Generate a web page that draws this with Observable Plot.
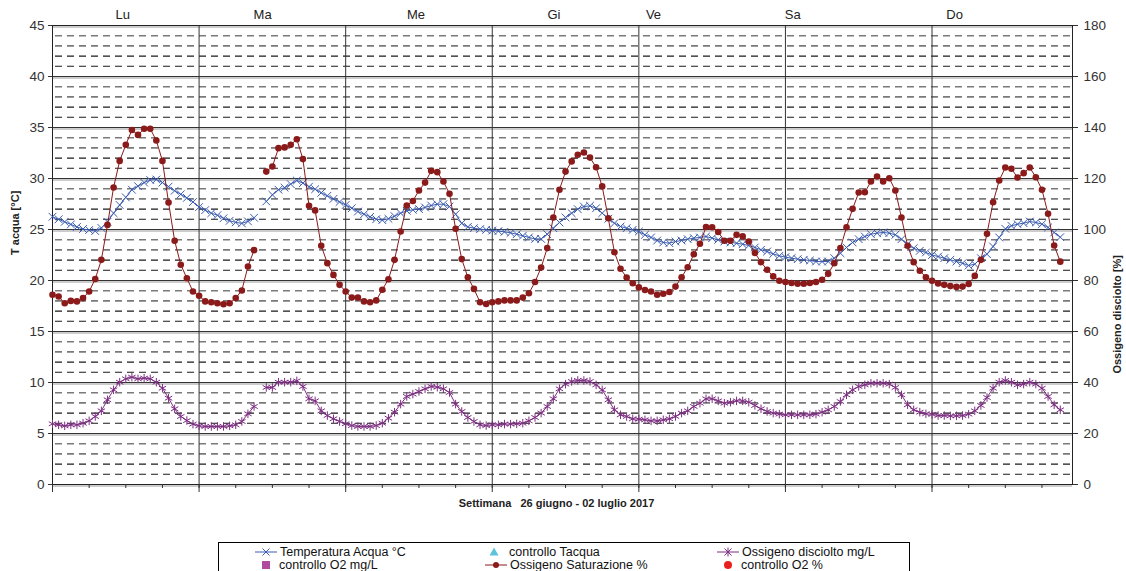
<!DOCTYPE html>
<html><head><meta charset="utf-8">
<script src="https://cdn.jsdelivr.net/npm/d3@7"></script>
<script src="https://cdn.jsdelivr.net/npm/@observablehq/plot@0.6"></script>
<style>
body{margin:0;background:#fff;font-family:"Liberation Sans",Arial,sans-serif;}
#wrap{position:relative;width:1126px;height:571px;overflow:hidden;background:#fff;}
#chart{position:absolute;left:0;top:0;}
#legend{position:absolute;left:218px;top:542px;width:692px;height:40px;border:1px solid #000;box-sizing:border-box;background:#fff;}
</style></head><body>
<div id="wrap"><div id="chart"></div><div id="legend"></div></div>
<script>
// ---- DATA (hourly, Lu 00:00 .. Do 21:00) ----
const dayLabels = ["Lu","Ma","Me","Gi","Ve","Sa","Do"];
const leftTicks = [0,5,10,15,20,25,30,35,40,45];
const rightTicks = [0,20,40,60,80,100,120,140,160,180];
const xTitle = "Settimana\u00a0\u00a0\u00a026 giugno - 02 luglio 2017";
const yLeftTitle = "T acqua [°C]";
const yRightTitle = "Ossigeno disciolto [%]";
const seriesNames = ["Temperatura Acqua °C","controllo Tacqua","Ossigeno disciolto mg/L","controllo O2 mg/L","Ossigeno Saturazione %","controllo O2 %"];

// Temperatura Acqua °C
const tempAcqua = [
 26.25,26.0,25.75,25.5,25.25,25.05,24.95,24.85,25.15,25.75,26.6,27.4,28.15,28.9,29.25,29.6,29.85,29.9,29.6,29.2,28.8,28.45,28.1,27.7,
 27.2,26.9,26.6,26.4,26.1,25.85,25.7,25.6,25.8,26.15,null,27.75,28.4,28.9,29.1,29.45,29.8,29.55,29.2,28.95,28.6,28.3,28.0,27.7,
 27.4,27.09,26.76,26.5,26.24,26.01,25.92,26.05,26.31,26.6,26.83,26.93,27.0,27.16,27.35,27.48,27.48,27.25,26.5,25.6,25.25,25.13,25.03,24.97,
 24.9,24.84,24.77,24.67,24.54,24.38,24.22,24.08,24.08,24.54,25.13,25.69,26.18,26.6,26.99,27.25,27.32,27.09,26.6,26.05,25.62,25.29,25.13,24.97,
 24.8,24.48,24.22,23.92,23.73,23.66,23.82,23.92,24.05,24.15,24.22,24.31,24.15,23.99,23.82,23.73,23.66,23.56,23.43,23.24,23.01,22.84,22.61,22.42,
 22.29,22.19,22.09,22.03,21.96,21.86,21.86,21.86,22.19,22.68,23.24,23.73,24.05,24.31,24.54,24.64,24.71,24.64,24.48,24.05,23.56,23.17,22.91,22.75,
 22.5,22.35,22.19,22.03,21.86,21.7,21.47,21.6,22.19,22.58,23.33,24.22,25.07,25.36,25.52,25.62,25.78,25.69,25.52,25.2,24.71,24.25
];
// Ossigeno Saturazione % (right axis)
const o2Sat = [
 74.4,73.7,71.1,72.0,71.8,73.1,75.7,80.6,88.1,101.8,116.5,126.9,133.2,139.0,137.1,139.5,139.5,134.9,126.9,110.6,95.6,86.2,80.9,75.7,
 74.0,71.8,71.5,71.1,70.7,71.1,73.1,76.1,85.5,91.9,null,122.7,124.7,131.9,132.2,133.2,135.4,127.6,109.3,107.5,93.6,86.8,82.2,78.3,
 75.7,73.3,73.3,71.8,71.5,72.2,76.4,80.5,88.1,99.2,109.4,111.2,115.3,118.4,123.0,122.5,118.8,114.0,100.3,88.4,81.3,76.7,71.5,70.8,
 71.5,71.8,72.2,72.2,72.2,73.3,75.0,79.4,85.1,92.7,104.7,115.6,122.7,126.7,129.3,130.2,128.2,124.4,116.9,104.4,91.1,84.6,81.2,78.9,
 77.3,76.3,75.7,74.4,74.8,75.5,77.6,81.3,85.2,90.3,94.4,101.0,100.9,99.0,95.6,95.6,97.9,97.3,95.3,90.8,87.2,84.2,81.6,79.9,
 79.4,79.0,78.7,78.7,79.0,79.4,80.3,82.6,86.8,92.7,100.9,108.1,114.5,114.6,118.8,120.8,118.8,120.1,115.3,104.7,93.6,87.2,83.8,81.3,
 79.9,78.8,78.3,77.8,77.5,77.6,78.6,81.8,88.1,98.3,110.7,119.2,124.3,123.8,120.4,122.1,124.3,120.5,115.6,106.2,93.7,87.4
];
// Ossigeno disciolto mg/L
const o2Mg = [
 5.95,5.85,5.75,5.85,5.85,6.01,6.24,6.67,7.22,8.30,9.28,10.03,10.36,10.52,10.36,10.42,10.36,10.03,9.44,8.46,7.42,6.67,6.27,5.92,
 5.75,5.69,5.69,5.69,5.69,5.75,5.85,6.18,6.93,7.65,null,9.51,9.51,10.03,10.03,10.03,10.16,9.61,8.40,8.20,7.22,6.76,6.44,6.18,
 5.95,5.78,5.69,5.69,5.69,5.78,6.01,6.50,7.09,7.88,8.63,8.86,9.12,9.38,9.61,9.54,9.38,9.02,7.88,7.16,6.57,6.18,5.85,5.78,
 5.85,5.85,5.92,5.92,5.95,6.01,6.24,6.57,7.0,7.65,8.40,9.38,9.84,10.10,10.20,10.20,10.10,9.77,9.28,8.30,7.32,6.83,6.67,6.44,
 6.4,6.34,6.24,6.24,6.34,6.44,6.67,7.0,7.22,7.65,7.97,8.40,8.40,8.20,7.97,8.07,8.20,8.20,8.07,7.75,7.42,7.16,7.0,6.90,
 6.83,6.83,6.83,6.83,6.83,6.90,7.09,7.32,7.65,8.14,8.79,9.28,9.61,9.77,9.93,9.93,9.93,9.84,9.51,8.79,7.81,7.32,7.09,6.93,
 6.88,6.76,6.76,6.73,6.73,6.76,6.90,7.22,7.75,8.53,9.44,10.03,10.20,10.03,9.77,9.84,10.03,9.84,9.44,8.63,7.81,7.32
];

// ---- LAYOUT / STYLE ----
const FONT = '"Liberation Sans", Arial, sans-serif';
const C_T = "#3b5cb0", C_S = "#8b1a1a", C_M = "#7d2e82";
const C_CT = "#5bc4d8", C_CM = "#b04a9e", C_CS = "#e8201e";
const xEnd = 167;                // axis end (hours)
const satScale = 4;              // right axis = 4 x left axis
const dayLabelHour = [11.5, 34.4, 59.5, 82.1, 98.4, 121.2, 147.7];

const rows = tempAcqua.map((t, i) => ({
  h: i, t, s: o2Sat[i] == null ? null : o2Sat[i] / satScale, m: o2Mg[i]
}));
const minorVals = d3.range(1, 45).filter(v => v % 5 !== 0);

const chart = Plot.plot({
  width: 1126, height: 520,
  marginLeft: 52, marginRight: 54, marginTop: 25, marginBottom: 36,
  x: {domain: [0, xEnd], axis: null},
  y: {domain: [0, 45], axis: null},
  style: {fontFamily: FONT, fontSize: "13px", color: "#333", background: "#fff", overflow: "visible"},
  marks: [
    Plot.ruleY(minorVals.filter(v => v % 5 >= 3), {stroke: "#7a7a7a", strokeWidth: 1.6, strokeDasharray: "7,5", strokeDashoffset: -3}),
    Plot.ruleY(minorVals.filter(v => v % 5 < 3), {stroke: "#1a1a1a", strokeWidth: 1.1, strokeDasharray: "7,5", strokeDashoffset: -3}),
    Plot.ruleY(leftTicks, {stroke: "#9a9a9a", strokeWidth: 1, dy: 1.5}),
    Plot.ruleY(leftTicks, {stroke: "#333", strokeWidth: 1.1}),
    Plot.ruleX(d3.range(24, xEnd, 24), {stroke: "#333"}),
    Plot.frame({stroke: "#222"}),
    Plot.axisY(leftTicks, {anchor: "left", tickSize: 4, tickPadding: 4, label: null, fontSize: 13.5, fill: "#333"}),
    Plot.axisY(leftTicks, {anchor: "right", tickSize: 5, tickPadding: 6, label: null, fontSize: 13.5, fill: "#333",
      tickFormat: (d, i) => rightTicks[i]}),
    Plot.axisX(d3.range(0, xEnd + 1, 6), {anchor: "bottom", tickSize: 4, tickFormat: () => "", label: null}),
    Plot.axisX(d3.range(0, xEnd + 1, 24), {anchor: "bottom", tickSize: 8, tickFormat: () => "", label: null}),
    // series
    Plot.line(rows, {x: "h", y: "t", stroke: C_T, strokeWidth: 1}),
    Plot.dot(rows, {x: "h", y: "t", symbol: "times", r: 3.6, stroke: C_T, strokeWidth: 1}),
    Plot.line(rows, {x: "h", y: "m", stroke: C_M, strokeWidth: 1}),
    Plot.dot(rows, {x: "h", y: "m", symbol: "asterisk", r: 4, stroke: C_M, strokeWidth: 1}),
    Plot.line(rows, {x: "h", y: "s", stroke: C_S, strokeWidth: 1}),
    Plot.dot(rows, {x: "h", y: "s", r: 3.3, fill: C_S, stroke: "none"}),
    // texts
    Plot.text(dayLabels, {x: (d, i) => dayLabelHour[i], y: () => 45, dy: -11, text: d => d, fontSize: 13, fill: "#222"}),
    Plot.text([yLeftTitle], {frameAnchor: "left", dx: -37, rotate: -90, fontWeight: "bold", fontSize: 11, fill: "#222"}),
    Plot.text([yRightTitle], {frameAnchor: "right", dx: 45, rotate: -90, fontWeight: "bold", fontSize: 11, fill: "#222"}),
    Plot.text([xTitle], {frameAnchor: "bottom", dy: 22, dx: -6, fontWeight: "bold", fontSize: 11, fill: "#222"})
  ]
});
document.getElementById("chart").appendChild(chart);

// ---- LEGEND ----
const lg = [
  {name: seriesNames[0], cx: 47, cy: 9, kind: "lineTimes", c: C_T},
  {name: seriesNames[1], cx: 275, cy: 9, kind: "triangle", c: C_CT},
  {name: seriesNames[2], cx: 509, cy: 9, kind: "lineAst", c: C_M},
  {name: seriesNames[3], cx: 47, cy: 22, kind: "square", c: C_CM},
  {name: seriesNames[4], cx: 277, cy: 22, kind: "lineDot", c: C_S},
  {name: seriesNames[5], cx: 509, cy: 22, kind: "circle", c: C_CS}
];
const svg = d3.select("#legend").append("svg").attr("width", 690).attr("height", 38)
  .style("font-family", FONT).style("font-size", "12.5px");
for (const it of lg) {
  const g = svg.append("g").attr("transform", `translate(${it.cx},${it.cy})`);
  if (it.kind.startsWith("line")) g.append("line").attr("x1", -11).attr("x2", 11).attr("stroke", it.c);
  if (it.kind === "lineTimes" || it.kind === "lineAst") {
    g.append("path").attr("d", "M-3.5,-3.5L3.5,3.5M-3.5,3.5L3.5,-3.5").attr("stroke", it.c);
    if (it.kind === "lineAst") g.append("path").attr("d", "M0,-4.5L0,4.5").attr("stroke", it.c);
  }
  if (it.kind === "lineDot") g.append("circle").attr("r", 3).attr("fill", it.c);
  if (it.kind === "triangle") g.append("path").attr("d", "M0,-4.5L4.5,3.5L-4.5,3.5Z").attr("fill", it.c);
  if (it.kind === "square") g.append("rect").attr("x", -4).attr("y", -4).attr("width", 8).attr("height", 8).attr("fill", it.c);
  if (it.kind === "circle") g.append("circle").attr("r", 4).attr("fill", it.c);
  const tx = it.kind.startsWith("line") ? 14 : (it.kind === "triangle" ? 15 : 13);
  g.append("text").attr("x", tx).attr("dy", "0.35em").attr("fill", "#111").text(it.name);
}
</script>
</body></html>
